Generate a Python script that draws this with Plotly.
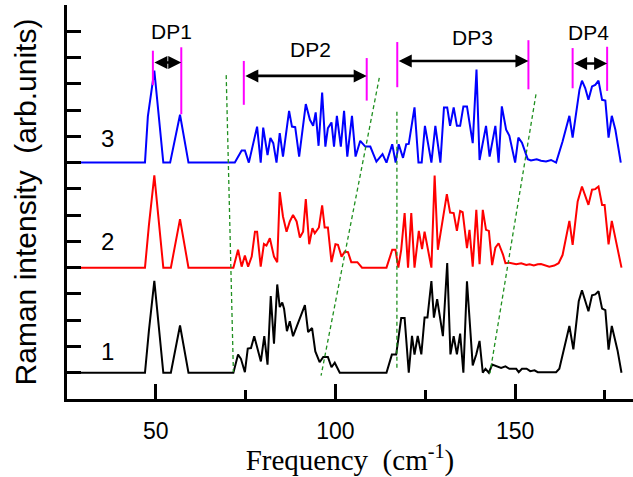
import plotly.graph_objects as go

# (frequency in cm-1, intensity above the curve's own baseline, in tick units)
spectrum1 = [(25, 0), (47.0, 0), (48.1, 1.61), (49.6, 3.50), (52.1, 0), (54.2, 0), (56.75, 1.80), (59.1, 0),
             (71.6, 0), (72.9, 0.69), (73.7, 0.53), (74.8, 0.02), (75.6, 0.92), (76.5, 0.94), (77.4, 1.39),
             (78.3, 0.92), (79.25, 0.43), (80.2, 1.39), (81.1, 0.31), (82.0, 2.92), (82.9, 1.11), (83.8, 3.36),
             (84.5, 2.50), (85.2, 2.67), (85.7, 2.44), (86.5, 1.58), (87.3, 1.96), (88.2, 1.39), (91.5, 2.57),
             (92.4, 1.55), (93.5, 1.70), (94.4, 0.81), (95.6, 0.40), (96.6, 0.60), (97.9, 0.60), (98.9, 0.21),
             (99.8, 0.38), (101.2, 0), (114.2, 0), (115.7, 0.69), (116.9, 0.69), (118.3, 2.08), (119.25, 2.08),
             (120.4, 0), (121.3, 1.40), (122.0, 0.69), (122.9, 1.40), (123.9, 0.70), (124.8, 2.10), (125.6, 2.10),
             (126.7, 3.49), (127.4, 2.10), (128.3, 2.80), (129.9, 1.39), (131.1, 4.18), (132.0, 0.70),
             (132.9, 1.39), (133.8, 0.70), (134.7, 1.49), (135.6, 0), (136.6, 3.48), (138.2, 0.28), (139.2, 0.70),
             (140.1, 1.21), (141.0, 0), (141.75, 0.15), (142.7, 0), (143.6, 0.31), (145.2, 0.21), (146.1, 0.18),
             (147.3, 0.24), (148.4, 0.15), (150.3, 0.15), (151.0, 0.02), (151.9, 0.15), (153.2, 0.15),
             (154.2, 0.06), (155.4, 0.09), (156.3, 0.02), (161.4, 0.02), (162.3, 0.15), (163.7, 0.92),
             (165.1, 1.78), (166.2, 0.89), (167.7, 2.72), (168.6, 3.14), (169.5, 2.70), (170.4, 2.34),
             (171.4, 2.95), (172.3, 2.98), (173.2, 3.10), (174.2, 2.44), (175.1, 2.38), (176.0, 0.88),
             (176.9, 1.78), (178.5, 0.85), (179.6, 0)]

spectrum2 = [(25, 0), (47.0, 0), (48.1, 1.63), (49.6, 3.51), (52.1, 0), (54.2, 0), (56.75, 1.85), (59.1, 0),
             (71.6, 0), (72.9, 0.68), (73.9, 0.04), (74.8, 0.46), (75.7, 0.04), (76.7, 0.42), (77.6, 1.37),
             (78.2, 1.37), (79.2, 0.04), (80.1, 0.90), (80.8, 0.84), (81.75, 1.12), (82.9, 0.42), (83.8, 0.21),
             (84.5, 2.88), (85.4, 1.95), (86.4, 1.37), (87.3, 1.76), (88.2, 2.01), (89.2, 1.76), (90.1, 1.15),
             (91.0, 1.37), (91.75, 2.61), (92.7, 0.89), (93.6, 1.50), (94.25, 1.31), (95.4, 1.53), (96.3, 2.37),
             (97.0, 1.53), (97.9, 1.53), (98.9, 0.21), (100.0, 0.89), (100.7, 0.87), (101.7, 0.42),
             (102.6, 0.61), (103.5, 0.59), (104.4, 0.21), (106.1, 0.21), (107.4, 0), (114.2, 0), (115.8, 0.68),
             (116.7, 0.68), (117.5, 0), (118.3, 0.68), (119.25, 2.08), (120.2, 0), (121.1, 2.08), (122.0, 0),
             (123.2, 1.40), (124.1, 0.71), (124.8, 1.37), (126.7, 0), (127.6, 3.51), (128.5, 0.68), (131.0, 2.80),
             (131.9, 2.10), (132.9, 2.08), (133.8, 1.40), (134.7, 2.16), (135.4, 2.11), (136.6, 0.74),
             (137.3, 1.44), (138.2, 0.04), (139.2, 2.20), (140.1, 0.13), (141.0, 2.20), (141.9, 1.44),
             (142.7, 1.40), (143.6, 0.10), (144.5, 0.76), (145.4, 0.93), (146.6, 0.51), (147.3, 0.17),
             (148.4, 0.19), (150.3, 0.13), (151.7, 0.17), (153.1, 0.10), (154.0, 0.13), (155.2, 0.08),
             (156.3, 0.13), (157.2, 0.14), (158.4, 0.10), (159.5, 0.04), (160.9, 0.08), (162.1, 0.17),
             (163.2, 0.48), (165.1, 1.78), (166.0, 0.87), (167.4, 2.52), (168.6, 3.09), (169.5, 2.71),
             (170.4, 2.39), (171.4, 2.97), (172.3, 2.99), (173.2, 3.09), (174.2, 2.39), (174.9, 2.39),
             (176.0, 0.89), (176.9, 1.78), (178.5, 0.80), (179.6, 0)]

spectrum3 = [(25, 0), (47.0, 0), (47.8, 1.76), (49.6, 3.50), (52.1, 0), (54.0, 0), (56.75, 1.82), (59.1, 0),
             (72.0, 0), (73.9, 0.46), (74.8, 0.46), (75.9, 0), (78.2, 1.37), (79.2, 0), (79.9, 1.33), (81.1, 0.29),
             (81.9, 0.94), (82.7, 0.74), (83.6, 0), (84.5, 1.12), (85.4, 0.23), (87.1, 1.97), (87.9, 1.37),
             (88.8, 1.35), (89.9, 0.23), (91.75, 2.23), (92.9, 1.63), (93.8, 1.40), (94.5, 1.91), (95.3, 0.64),
             (96.3, 2.67), (97.2, 0.61), (97.9, 1.31), (98.9, 1.53), (99.6, 0.61), (100.4, 1.78), (101.5, 0.61),
             (102.4, 1.97), (103.3, 0.23), (104.6, 1.78), (105.6, 0.23), (106.9, 0.83), (108.3, 0.61),
             (109.7, 0.61), (111.4, 0.04), (113.1, 0.32), (114.2, 0), (115.8, 0.70), (116.75, 0), (117.6, 0.70),
             (118.8, 0.18), (119.7, 0.70), (120.4, 0.71), (122.0, 2.10), (123.1, 0), (124.0, 0), (124.9, 1.40),
             (125.8, 0.64), (126.7, 0), (127.8, 1.40), (129.2, 0), (130.2, 2.10), (131.1, 2.10), (131.9, 1.40),
             (132.9, 2.10), (133.8, 1.40), (134.7, 1.40), (135.6, 2.14), (136.6, 2.14), (138.2, 0.74),
             (139.25, 3.54), (140.1, 0.10), (141.9, 1.40), (142.9, 0.23), (144.5, 1.40), (145.4, 0),
             (146.3, 2.14), (147.5, 1.25), (148.4, 1.02), (150.0, 0), (150.9, 0.95), (151.9, 0.76), (153.5, 0.13),
             (154.4, 0.08), (156.0, 0.13), (157.2, 0.07), (158.6, 0.04), (160.0, 0.10), (161.4, 0), (163.2, 0.80),
             (165.1, 1.78), (166.0, 0.95), (167.9, 2.77), (168.6, 3.12), (169.5, 2.84), (170.4, 2.39),
             (171.4, 2.90), (172.3, 2.96), (173.2, 3.12), (174.2, 2.39), (175.1, 2.36), (176.0, 0.95),
             (176.9, 1.78), (177.9, 1.25), (179.4, 0)]

spectra = [spectrum1, spectrum2, spectrum3]
curve_offsets = [1, 5, 9]
curve_labels = ["1", "2", "3"]
curve_colors = ["#000000", "#ff0000", "#0000ff"]
curve_label_x = [36.7, 36.7, 36.7]
curve_label_y = [1.8, 6.0, 9.9]

dp_names = ["DP1", "DP2", "DP3", "DP4"]
dp_left = [49.2, 74.5, 117.2, 166.0]
dp_right = [57.1, 108.7, 153.7, 175.6]
dp_left_y = [(11.95, 13.26), (11.2, 12.87), (11.87, 13.59), (11.83, 13.36)]
dp_right_y = [(10.84, 13.39), (11.36, 12.98), (11.79, 13.66), (11.73, 13.41)]
dp_arrow_y = [12.81, 12.30, 12.87, 12.77]
dp_label_x = [54.5, 93.1, 138.2, 170.4]
dp_label_y = [13.98, 13.29, 13.75, 13.96]

guide_x = [(69.6, 71.6), (112.2, 96.0), (117.1, 117.1), (155.8, 143.0)]
guide_y = [(12.33, 1.03), (12.23, 0.89), (10.94, 1.18), (11.6, 0.98)]

x_range = [25.3, 182.8]
y_range = [0, 15]
x_major = [50, 100, 150]
x_minor = [75, 125, 175]
y_ticks = list(range(1, 15))

fig = go.Figure()

for spec, off, col in zip(spectra, curve_offsets, curve_colors):
    fx = [p[0] for p in spec]
    fy = [off + p[1] for p in spec]
    fig.add_trace(go.Scatter(x=fx, y=fy, mode="lines", line=dict(color=col, width=2),
                             hoverinfo="skip", showlegend=False))

shapes = []
for gx, gy in zip(guide_x, guide_y):
    shapes.append(dict(type="line", xref="x", yref="y", x0=gx[0], y0=gy[0], x1=gx[1], y1=gy[1],
                       line=dict(color="#1f8f1f", width=1.3, dash="4px,3px")))
for xl, xr, yl, yr in zip(dp_left, dp_right, dp_left_y, dp_right_y):
    shapes.append(dict(type="line", xref="x", yref="y", x0=xl, y0=yl[0], x1=xl, y1=yl[1],
                       line=dict(color="#ff00ff", width=2)))
    shapes.append(dict(type="line", xref="x", yref="y", x0=xr, y0=yr[0], x1=xr, y1=yr[1],
                       line=dict(color="#ff00ff", width=2)))

annotations = []
for xl, xr, ya in zip(dp_left, dp_right, dp_arrow_y):
    annotations.append(dict(x=xr, y=ya, ax=xl, ay=ya, xref="x", yref="y", axref="x", ayref="y",
                            text="", showarrow=True, arrowhead=2, startarrowhead=2, arrowside="end+start",
                            arrowsize=1, startarrowsize=1, arrowwidth=2.6, arrowcolor="black",
                            standoff=0, startstandoff=0))
for name, lx, ly in zip(dp_names, dp_label_x, dp_label_y):
    annotations.append(dict(x=lx, y=ly, xref="x", yref="y", text=name, showarrow=False,
                            font=dict(family="Liberation Sans", size=21, color="black")))
for lab, lx, ly in zip(curve_labels, curve_label_x, curve_label_y):
    annotations.append(dict(x=lx, y=ly, xref="x", yref="y", text=lab, showarrow=False,
                            font=dict(family="Liberation Sans", size=24, color="black")))

fig.update_layout(
    width=633, height=477,
    margin=dict(l=67, r=0, t=5, b=78),
    paper_bgcolor="white", plot_bgcolor="white",
    showlegend=False,
    shapes=shapes, annotations=annotations,
    xaxis=dict(range=x_range, showline=True, linewidth=2.5, linecolor="black", automargin=False,
               ticks="inside", tickvals=x_major, ticktext=[str(v) for v in x_major],
               ticklen=15, tickwidth=2.5, tickcolor="black", ticklabelstandoff=10,
               minor=dict(tickvals=x_minor, ticks="inside", ticklen=9, tickwidth=2.5, tickcolor="black"),
               showgrid=False, zeroline=False,
               tickfont=dict(family="Liberation Sans", size=23, color="black"),
               title=dict(text="Frequency&nbsp; (cm<sup>-1</sup>)", standoff=10,
                          font=dict(family="Liberation Serif", size=29, color="black"))),
    xaxis2=dict(range=x_range, overlaying="x", side="top", anchor="y", showline=True, linewidth=2.5,
                linecolor="black", ticks="inside", tickvals=x_major + x_minor, ticklen=4, tickwidth=2,
                tickcolor="black", showticklabels=False, showgrid=False, zeroline=False, automargin=False),
    yaxis=dict(range=y_range, showline=True, linewidth=2.5, linecolor="black", automargin=False,
               ticks="inside", tickvals=y_ticks, ticklen=14, tickwidth=2.5, tickcolor="black",
               showticklabels=False, showgrid=False, zeroline=False,
               title=dict(text="Raman intensity&nbsp; (arb.units)", standoff=19,
                          font=dict(family="Liberation Sans", size=30, color="black"))),
)

fig.write_html("out.html", config={"displayModeBar": False},
               post_script="document.body.style.margin='0px';")
